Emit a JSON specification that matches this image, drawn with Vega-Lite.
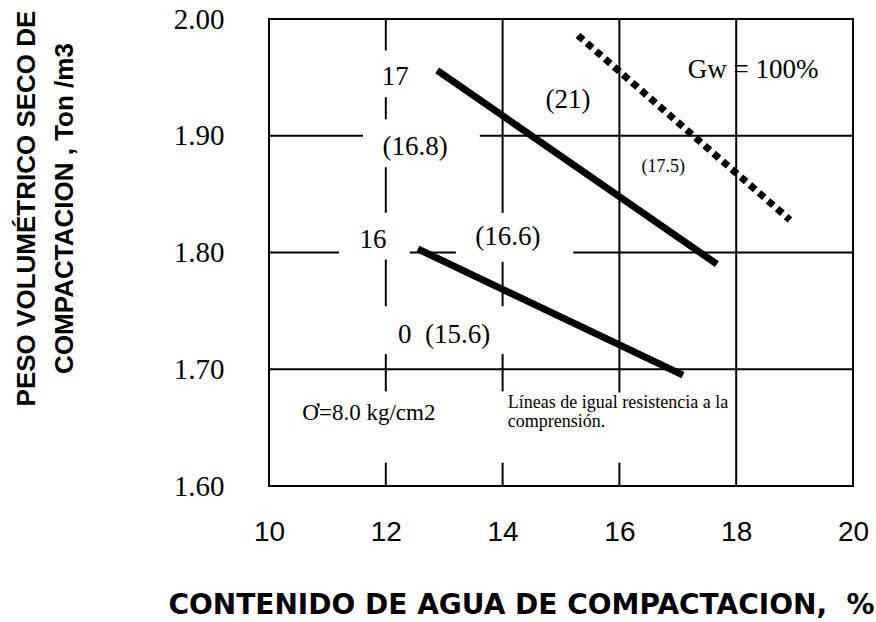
{
  "$schema": "https://vega.github.io/schema/vega-lite/v6.json",
  "width": 584,
  "height": 467,
  "autosize": {"type": "none"},
  "padding": {"left": 269, "top": 19, "right": 23, "bottom": 136},
  "background": "white",
  "config": {"view": {"stroke": "black", "strokeWidth": 2}, "font": "Liberation Serif"},
  "datasets": {
    "grid": [
      {"x": 12, "x2": 12, "y": 2.0, "y2": 1.973},
      {"x": 12, "x2": 12, "y": 1.933, "y2": 1.914},
      {"x": 12, "x2": 12, "y": 1.873, "y2": 1.834},
      {"x": 12, "x2": 12, "y": 1.794, "y2": 1.754},
      {"x": 12, "x2": 12, "y": 1.713, "y2": 1.681},
      {"x": 12, "x2": 12, "y": 1.62, "y2": 1.6},
      {"x": 14, "x2": 14, "y": 2.0, "y2": 1.834},
      {"x": 14, "x2": 14, "y": 1.792, "y2": 1.754},
      {"x": 14, "x2": 14, "y": 1.713, "y2": 1.681},
      {"x": 14, "x2": 14, "y": 1.62, "y2": 1.6},
      {"x": 16, "x2": 16, "y": 2.0, "y2": 1.68},
      {"x": 16, "x2": 16, "y": 1.62, "y2": 1.6},
      {"x": 18, "x2": 18, "y": 2.0, "y2": 1.6},
      {"x": 10, "x2": 11.61, "y": 1.9, "y2": 1.9},
      {"x": 13.61, "x2": 20, "y": 1.9, "y2": 1.9},
      {"x": 10, "x2": 11.2, "y": 1.8, "y2": 1.8},
      {"x": 12.41, "x2": 13.2, "y": 1.8, "y2": 1.8},
      {"x": 15.21, "x2": 20, "y": 1.8, "y2": 1.8},
      {"x": 10, "x2": 20, "y": 1.7, "y2": 1.7}
    ],
    "solid": [
      {"serie": "17", "x": 12.88, "y": 1.956},
      {"serie": "17", "x": 17.67, "y": 1.79},
      {"serie": "16", "x": 12.55, "y": 1.803},
      {"serie": "16", "x": 17.09, "y": 1.695}
    ],
    "sat": [
      {"x": 15.29, "y": 1.986},
      {"x": 18.92, "y": 1.828}
    ],
    "labels": [
      {"x": 12.16, "y": 1.95, "t": "17"},
      {"x": 12.5, "y": 1.89, "t": "(16.8)"},
      {"x": 11.78, "y": 1.811, "t": "16"},
      {"x": 14.09, "y": 1.813, "t": "(16.6)"},
      {"x": 15.12, "y": 1.931, "t": "(21)"},
      {"x": 13.0, "y": 1.729, "t": "0\u00a0\u00a0(15.6)"}
    ],
    "small": [
      {"x": 16.75, "y": 1.873, "t": "(17.5)"}
    ],
    "gw": [
      {"x": 18.29, "y": 1.956, "t": "Gw = 100%"}
    ],
    "sigma": [
      {"x": 11.71, "y": 1.6625, "t": "Ơ=8.0 kg/cm2"}
    ],
    "note": [
      {"x": 14.09, "y": 1.671, "t": "Líneas de igual resistencia a la"},
      {"x": 14.09, "y": 1.655, "t": "comprensión."}
    ]
  },
  "layer": [
    {
      "data": {"name": "grid"},
      "mark": {"type": "rule", "color": "black", "strokeWidth": 2},
      "encoding": {
        "x": {
          "field": "x", "type": "quantitative",
          "scale": {"domain": [10, 20], "nice": false, "zero": false},
          "axis": {
            "values": [10, 12, 14, 16, 18, 20], "format": "d",
            "grid": false, "domain": false, "ticks": false, "labelFlush": false, "labelOverlap": false,
            "labelFont": "Liberation Sans", "labelFontSize": 28, "labelPadding": 32, "labelColor": "black",
            "title": "CONTENIDO DE AGUA DE COMPACTACION,\u00a0\u00a0%",
            "titleFont": "DejaVu Sans", "titleFontSize": 28, "titleFontWeight": "bold", "titleColor": "black",
            "titleX": 252, "titleY": 119, "titleBaseline": "middle"
          }
        },
        "x2": {"field": "x2"},
        "y": {
          "field": "y", "type": "quantitative",
          "scale": {"domain": [1.6, 2.0], "nice": false, "zero": false},
          "axis": {
            "values": [1.6, 1.7, 1.8, 1.9, 2.0], "format": ".2f",
            "grid": false, "domain": false, "ticks": false, "labelFlush": false, "labelOverlap": false,
            "labelFont": "Liberation Serif", "labelFontSize": 29, "labelPadding": 45, "labelColor": "black",
            "title": ["PESO VOLUMÉTRICO SECO DE", "COMPACTACION , Ton /m3"],
            "titleFont": "Liberation Sans", "titleFontSize": 26, "titleFontWeight": "bold", "titleColor": "black",
            "titleLineHeight": 38, "titleAngle": -90, "titleX": -243, "titleY": 189, "titleBaseline": "middle"
          }
        },
        "y2": {"field": "y2"}
      }
    },
    {
      "data": {"name": "solid"},
      "mark": {"type": "line", "color": "black", "strokeWidth": 7, "strokeCap": "butt"},
      "encoding": {
        "x": {"field": "x", "type": "quantitative"},
        "y": {"field": "y", "type": "quantitative"},
        "detail": {"field": "serie"}
      }
    },
    {
      "data": {"name": "sat"},
      "mark": {"type": "line", "color": "black", "strokeWidth": 7, "strokeDash": [7, 5], "strokeCap": "butt"},
      "encoding": {
        "x": {"field": "x", "type": "quantitative"},
        "y": {"field": "y", "type": "quantitative"}
      }
    },
    {
      "data": {"name": "labels"},
      "mark": {"type": "text", "font": "Liberation Serif", "fontSize": 27, "color": "black", "baseline": "middle", "align": "center"},
      "encoding": {
        "x": {"field": "x", "type": "quantitative"},
        "y": {"field": "y", "type": "quantitative"},
        "text": {"field": "t"}
      }
    },
    {
      "data": {"name": "small"},
      "mark": {"type": "text", "font": "Liberation Serif", "fontSize": 18, "color": "black", "baseline": "middle", "align": "center"},
      "encoding": {
        "x": {"field": "x", "type": "quantitative"},
        "y": {"field": "y", "type": "quantitative"},
        "text": {"field": "t"}
      }
    },
    {
      "data": {"name": "gw"},
      "mark": {"type": "text", "font": "Liberation Serif", "fontSize": 27, "color": "black", "baseline": "middle", "align": "center"},
      "encoding": {
        "x": {"field": "x", "type": "quantitative"},
        "y": {"field": "y", "type": "quantitative"},
        "text": {"field": "t"}
      }
    },
    {
      "data": {"name": "sigma"},
      "mark": {"type": "text", "font": "Liberation Serif", "fontSize": 23, "color": "black", "baseline": "middle", "align": "center"},
      "encoding": {
        "x": {"field": "x", "type": "quantitative"},
        "y": {"field": "y", "type": "quantitative"},
        "text": {"field": "t"}
      }
    },
    {
      "data": {"name": "note"},
      "mark": {"type": "text", "font": "Liberation Serif", "fontSize": 18, "color": "black", "baseline": "middle", "align": "left"},
      "encoding": {
        "x": {"field": "x", "type": "quantitative"},
        "y": {"field": "y", "type": "quantitative"},
        "text": {"field": "t"}
      }
    }
  ]
}
